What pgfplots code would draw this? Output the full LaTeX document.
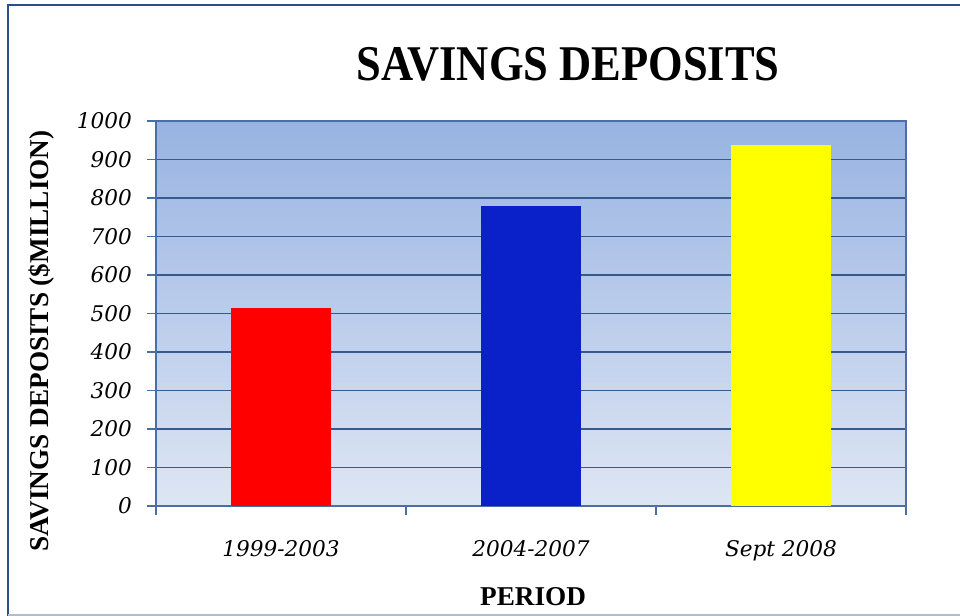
\documentclass[border=0pt]{standalone}
\usepackage{pgfplots}
\pgfplotsset{compat=1.18}
\usepackage{fontspec}
\usepackage{graphicx}
\setmainfont{Liberation Serif}
\newfontfamily\tickfont{DejaVu Serif}
\definecolor{framecol}{HTML}{2B5089}
\definecolor{lightgrey}{HTML}{B4BCC6}
\definecolor{gridcol}{HTML}{36598E}
\definecolor{axiscol}{HTML}{4A6FA5}
\definecolor{bgtop}{HTML}{98B3E2}
\definecolor{bgbot}{HTML}{DEE6F4}
\definecolor{barred}{HTML}{FF0000}
\definecolor{barblue}{HTML}{0A20C8}
\definecolor{baryellow}{HTML}{FFFF00}
\begin{document}
\begin{tikzpicture}[x=1pt,y=1pt]
\useasboundingbox (0,0) rectangle (480,308);
\fill[white] (0,0) rectangle (480,308);
\draw[line width=1.3pt, color=framecol] (4,0) -- (4,305.5) -- (480,305.5);
\draw[line width=0.8pt, color=lightgrey] (4,0.4) -- (480,0.4);
\begin{axis}[
  at={(78pt,55pt)}, anchor=south west,
  scale only axis, width=375pt, height=192.5pt,
  xmin=-0.5, xmax=2.5, ymin=0, ymax=1000,
  ytick={0,100,...,1000},
  scaled y ticks=false,
  /pgf/number format/1000 sep={},
  /pgf/number format/assume math mode=true,
  xtick={-0.5,0.5,1.5,2.5}, xticklabels={},
  extra x ticks={0,1,2},
  extra x tick labels={1999-2003,2004-2007,Sept 2008},
  extra x tick style={major tick length=0pt},
  xtick pos=bottom, ytick pos=left,
  tick align=outside,
  major tick length=4.5pt,
  ymajorgrids,
  grid style={gridcol, line width=0.9pt},
  axis line style={axiscol, line width=0.8pt},
  tick style={axiscol, line width=0.8pt},
  axis background/.style={top color=bgtop, bottom color=bgbot},
  ticklabel style={font=\tickfont\itshape\fontsize{10.8}{12}\selectfont, text=black},
  yticklabel style={anchor=east, xshift=-4pt},
  xticklabel style={yshift=-13.5pt},
  title={\scalebox{0.89}[1]{SAVINGS DEPOSITS}},
  title style={at={(rel axis cs:0.5493,1.075)}, anchor=base, font=\bfseries\fontsize{25}{30}\selectfont},
  xlabel={PERIOD},
  xlabel style={at={(rel axis cs:0.5027,-0.2597)}, anchor=base, font=\bfseries\fontsize{13.6}{16}\selectfont},
  ylabel={SAVINGS DEPOSITS (\$MILLION)},
  ylabel style={at={(rel axis cs:-0.1427,0.4286)}, anchor=base, font=\bfseries\fontsize{13.6}{16}\selectfont},
]
\addplot[ybar, bar width=50pt, fill=barred, draw=none] coordinates {(0,515)};
\addplot[ybar, bar width=50pt, fill=barblue, draw=none] coordinates {(1,778)};
\addplot[ybar, bar width=50pt, fill=baryellow, draw=none] coordinates {(2,938)};
\end{axis}
\end{tikzpicture}
\end{document}
